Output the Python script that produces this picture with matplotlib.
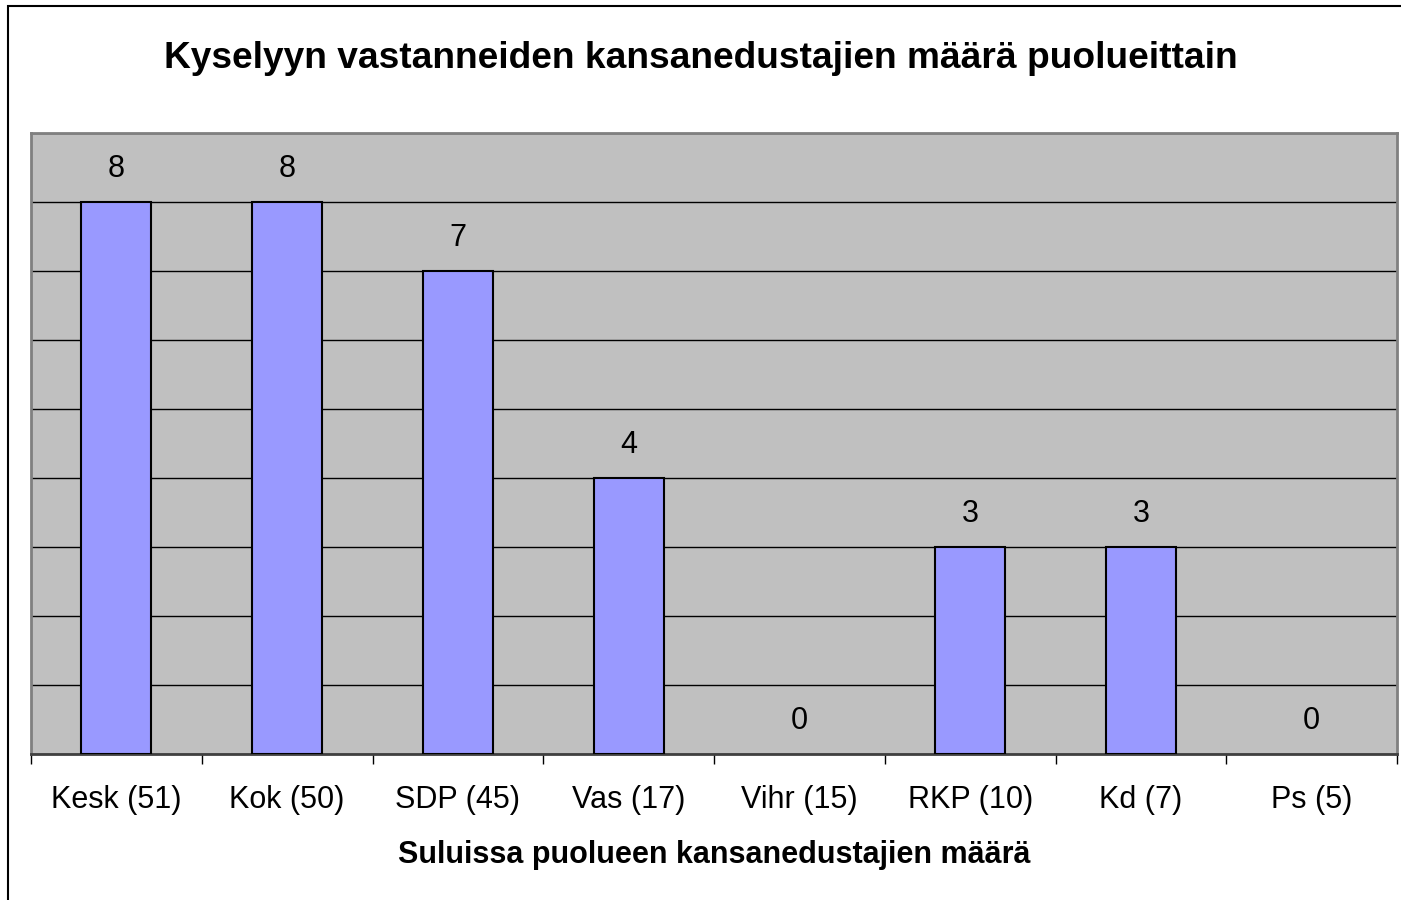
import matplotlib
matplotlib.use("Agg")
import matplotlib.pyplot as plt
from matplotlib.patches import Rectangle
import numpy as np

plt.rcParams['font.family'] = ['Liberation Sans', 'DejaVu Sans']

categories = ["Kesk (51)", "Kok (50)", "SDP (45)", "Vas (17)", "Vihr (15)", "RKP (10)", "Kd (7)", "Ps (5)"]
values = [8, 8, 7, 4, 0, 3, 3, 0]
title = "Kyselyyn vastanneiden kansanedustajien määrä puolueittain"
xlabel = "Suluissa puolueen kansanedustajien määrä"

fig = plt.figure(figsize=(14.01, 9.0), dpi=100)
ax = fig.add_axes([31/1401, 1-754/900, (1397-31)/1401, (754-133)/900])
ax.set_facecolor("#C0C0C0")

x = np.arange(len(categories))
bars = ax.bar(x, values, width=0.41, color="#9999FF", edgecolor="black", linewidth=1.5, zorder=3)
for b, v in zip(bars, values):
    if v == 0:
        b.set_linewidth(0)
for xi, v in zip(x, values):
    ax.annotate(str(v), (xi, v), xytext=(0, 24), textcoords="offset points",
                ha="center", va="center", fontsize=22, zorder=4)

ax.set_xlim(-0.5, len(categories) - 0.5)
ax.set_ylim(0, 9)
ax.set_yticks(np.arange(0, 10))
ax.yaxis.grid(True, color="black", linewidth=1.0, zorder=1)
ax.set_axisbelow(True)
ax.tick_params(axis="y", left=False, labelleft=False)

ax.set_xticks(x)
ax.set_xticklabels(categories, fontsize=22)
ax.tick_params(axis="x", which="major", length=0, pad=22)
ax.set_xticks(np.arange(-0.5, len(categories)), minor=True)
ax.tick_params(axis="x", which="minor", length=7, width=1, color="black", direction="out")

for s in ["left", "right", "top"]:
    ax.spines[s].set_color("#808080")
    ax.spines[s].set_linewidth(2)
ax.spines["bottom"].set_color("#404040")
ax.spines["bottom"].set_linewidth(2)

ax.set_xlabel(xlabel, fontsize=22, fontweight="bold", va="center")
ax.xaxis.set_label_coords(0.5, (754-855)/621)

fig.text(0.5, 1-58.5/900, title, ha="center", va="center", fontsize=26.7, fontweight="bold")

fig.patches.append(Rectangle((8/1401, -0.1), 1.2, 1.1 - 6/900, transform=fig.transFigure,
                             fill=False, edgecolor="black", linewidth=1.5))

fig.savefig("out.png", dpi=100)
